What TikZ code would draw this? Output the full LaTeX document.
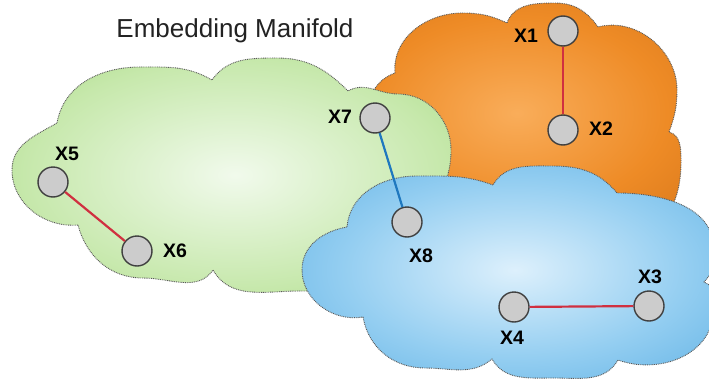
\documentclass[tikz,border=0pt]{standalone}
\usepackage{fontspec}
\setmainfont{Liberation Sans}

\definecolor{orangeIn}{HTML}{F9AD5A}
\definecolor{orangeMid}{HTML}{EE8B26}
\definecolor{orangeOut}{HTML}{C5660F}
\definecolor{greenIn}{HTML}{F1FAEC}
\definecolor{greenMid}{HTML}{C6E8AB}
\definecolor{greenOut}{HTML}{86CA58}
\definecolor{blueIn}{HTML}{DDF0FC}
\definecolor{blueMid}{HTML}{94CEF1}
\definecolor{blueOut}{HTML}{47A4DF}
\definecolor{nodefill}{HTML}{CCCCCC}
\definecolor{nodeline}{HTML}{404040}
\definecolor{linkred}{HTML}{D03040}
\definecolor{linkblue}{HTML}{1F78BF}
\definecolor{rim}{HTML}{5A5A5A}
\definecolor{titlegray}{HTML}{222222}

% radial fills: full outer colour at 25bp, i.e. half the shaded ellipse
\pgfdeclareradialshading{cloudorange}{\pgfpointorigin}{color(0bp)=(orangeIn); color(11bp)=(orangeMid); color(25bp)=(orangeOut); color(50bp)=(orangeOut)}
\pgfdeclareradialshading{cloudgreen}{\pgfpointorigin}{color(0bp)=(greenIn); color(12bp)=(greenMid); color(25bp)=(greenOut); color(50bp)=(greenOut)}
\pgfdeclareradialshading{cloudblue}{\pgfpointorigin}{color(0bp)=(blueIn); color(11bp)=(blueMid); color(24bp)=(blueOut); color(50bp)=(blueOut)}

% cloud outlines (x to the right, y upwards, 1 unit = 1pt)
\newcommand\orangeoutline{(420,-200) -- (370,-110)
  to[out=95,in=200] (395,-73)
  to[out=95,in=180] (462,-13)
  to[out=0,in=155] (507,-23)
  to[out=70,in=180] (555,-3)
  to[out=0,in=125] (598,-27)
  to[out=15,in=90] (677,-90)
  to[out=270,in=70] (669,-132)
  to[out=-15,in=90] (681,-162)
  to[out=270,in=60] (660,-230) -- cycle}

\newcommand\greenoutline{(78,-225)
  to[out=185,in=270] (12,-170)
  to[out=90,in=210] (57,-123)
  to[out=80,in=180] (140,-67)
  to[out=0,in=150] (212,-80)
  to[out=55,in=180] (277,-58)
  to[out=0,in=135] (348,-91)
  to[out=30,in=180] (398,-94)
  to[out=0,in=90] (451,-150)
  to[out=270,in=90] (432,-240)
  to[out=270,in=0] (300,-291)
  to[out=180,in=300] (213,-270)
  to[out=235,in=0] (143,-278)
  to[out=180,in=285] (78,-225) -- cycle}

\newcommand\blueoutline{(302,-270)
  to[out=90,in=190] (347,-227)
  to[out=85,in=180] (417,-176)
  to[out=0,in=160] (493,-185)
  to[out=60,in=180] (553,-166)
  to[out=0,in=130] (617,-193)
  to[out=0,in=90] (714,-250)
  to[out=270,in=45] (704,-282)
  to[out=-20,in=90] (713,-318)
  to[out=260,in=340] (618,-360)
  to[out=240,in=0] (553,-378)
  to[out=180,in=300] (492,-359)
  to[out=220,in=0] (425,-368)
  to[out=180,in=280] (363,-317)
  to[out=190,in=270] (302,-270) -- cycle}

\tikzset{
  cloudrim/.style={draw=rim, line width=0.9pt, dash pattern=on 0.9pt off 0.9pt},
  pt/.style={circle, draw=nodeline, fill=nodefill, line width=1.4pt,
             minimum size=30pt, inner sep=0pt},
  lbl/.style={font=\fontsize{19.5}{20}\selectfont\bfseries, anchor=base,
              inner sep=0pt, text=black},
  rededge/.style={draw=linkred, line width=2.2pt},
  blueedge/.style={draw=linkblue, line width=2.2pt}
}

\begin{document}
\begin{tikzpicture}[x=1pt, y=1pt]
  \useasboundingbox (0,0) rectangle (709,-380);
  \fill[white] (0,0) rectangle (709,-380);

  % orange cloud
  \begin{scope}
    \clip \orangeoutline;
    \shade[shading=cloudorange] (517,-113) ellipse (340 and 220);
  \end{scope}
  \path[cloudrim] \orangeoutline;

  % green cloud
  \begin{scope}
    \clip \greenoutline;
    \shade[shading=cloudgreen] (235,-175) ellipse (440 and 240);
  \end{scope}
  \path[cloudrim] \greenoutline;

  % blue cloud
  \begin{scope}
    \clip \blueoutline;
    \shade[shading=cloudblue] (515,-270) ellipse (390 and 200);
  \end{scope}
  \path[cloudrim] \blueoutline;

  % title
  \node[font=\fontsize{26}{28}\selectfont, text=titlegray, anchor=base, inner sep=0pt]
    (title) at (235,-37) {Embedding Manifold};

  % points
  \node[pt] (x1) at (563,-31) {};
  \node[pt] (x2) at (563,-130) {};
  \node[pt] (x3) at (649,-306) {};
  \node[pt] (x4) at (514,-307) {};
  \node[pt] (x5) at (53,-182) {};
  \node[pt] (x6) at (137,-251) {};
  \node[pt] (x7) at (375,-118) {};
  \node[pt] (x8) at (407,-222) {};

  % links
  \draw[rededge] (x1) -- (x2);
  \draw[rededge] (x4) -- (x3);
  \draw[rededge] (x5) -- (x6);
  \draw[blueedge] (x7) -- (x8);

  % labels
  \node[lbl] (l1) at (526,-42) {X1};
  \node[lbl] (l2) at (601,-135) {X2};
  \node[lbl] (l3) at (650,-283) {X3};
  \node[lbl] (l4) at (512,-344) {X4};
  \node[lbl] (l5) at (67,-160) {X5};
  \node[lbl] (l6) at (175,-257) {X6};
  \node[lbl] (l7) at (340,-123) {X7};
  \node[lbl] (l8) at (421,-262) {X8};
\end{tikzpicture}
\end{document}
